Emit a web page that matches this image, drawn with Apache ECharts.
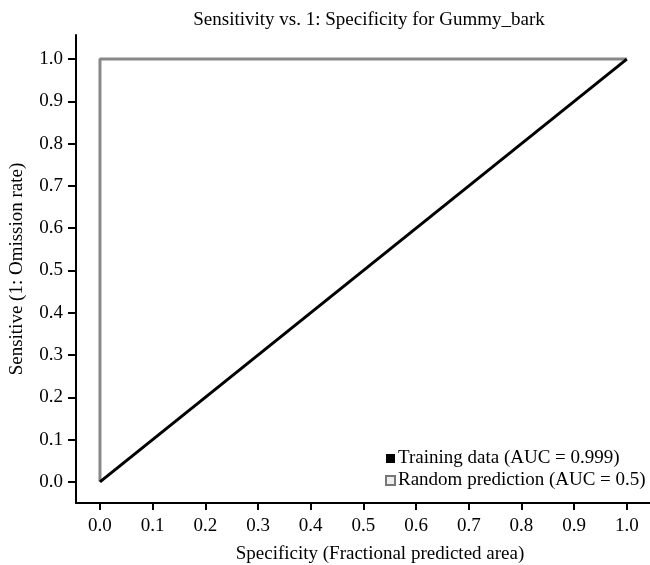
<!DOCTYPE html>
<html>
<head>
<meta charset="utf-8">
<script src="https://cdn.jsdelivr.net/npm/echarts@6/dist/echarts.min.js"></script>
<style>html,body{margin:0;padding:0;background:#fff}#c{width:650px;height:565px}</style>
</head>
<body>
<div id="c"></div>
<script>
var titleText = 'Sensitivity vs. 1: Specificity for Gummy_bark';
var xName = 'Specificity (Fractional predicted area)';
var yName = 'Sensitive (1: Omission rate)';
var legendNames = ['Training data (AUC = 0.999)', 'Random prediction (AUC = 0.5)'];
var tickValues = [0, 0.1, 0.2, 0.3, 0.4, 0.5, 0.6, 0.7, 0.8, 0.9, 1.0];
var trainX = [0, 1];
var trainY = [0, 1];
var randomX = [0, 0, 1];
var randomY = [0, 1, 1];

function pairs(xs, ys) { return xs.map(function (x, i) { return [x, ys[i]]; }); }
var FONT = 'Liberation Serif';
var FS = 19;
var chart = echarts.init(document.getElementById('c'), null, {renderer: 'canvas'});
chart.setOption({
  animation: false,
  textStyle: {fontFamily: FONT},
  title: {
    text: titleText, left: 364, top: 6, textAlign: 'center',
    textStyle: {fontFamily: FONT, fontSize: FS, fontWeight: 'normal', color: '#000'}
  },
  legend: {
    orient: 'vertical', left: 380, top: 444, itemGap: 3,
    itemWidth: 9, itemHeight: 9, icon: 'rect',
    textStyle: {fontFamily: FONT, fontSize: FS, color: '#000', padding: [0, 0, 0, -2]},
    data: [
      {name: legendNames[0], itemStyle: {color: '#000', borderWidth: 0}},
      {name: legendNames[1], itemStyle: {color: '#eee', borderColor: '#777', borderWidth: 2}}
    ]
  },
  grid: {left: 76, right: 0, top: 35, bottom: 62, outerBoundsMode: 'none', containLabel: false},
  xAxis: {
    type: 'value', min: -0.0455, max: 1.044,
    name: xName, nameLocation: 'middle', nameGap: 42,
    nameTextStyle: {fontFamily: FONT, fontSize: FS, color: '#000', padding: [0, 0, 0, 34]},
    axisLine: {onZero: false, lineStyle: {color: '#000', width: 2}},
    axisTick: {show: true, length: 7, lineStyle: {color: '#000', width: 2}, customValues: tickValues},
    axisLabel: {fontFamily: FONT, fontSize: FS, color: '#000', margin: 14, customValues: tickValues,
      formatter: function (v) { return v.toFixed(1); }},
    splitLine: {show: false}
  },
  yAxis: {
    type: 'value', min: -0.05, max: 1.057,
    name: yName, nameLocation: 'middle', nameGap: 49, nameRotate: 90,
    nameTextStyle: {fontFamily: FONT, fontSize: FS, color: '#000'},
    axisLine: {onZero: false, lineStyle: {color: '#000', width: 2}},
    axisTick: {show: true, length: 8, lineStyle: {color: '#000', width: 2}, customValues: tickValues},
    axisLabel: {fontFamily: FONT, fontSize: FS, color: '#000', margin: 13, customValues: tickValues,
      formatter: function (v) { return v.toFixed(1); }},
    splitLine: {show: false}
  },
  series: [
    {name: legendNames[1], type: 'line', data: pairs(randomX, randomY), symbol: 'none',
      lineStyle: {color: '#888', width: 3}, itemStyle: {color: '#888'}, z: 2},
    {name: legendNames[0], type: 'line', data: pairs(trainX, trainY), symbol: 'none',
      lineStyle: {color: '#000', width: 3}, itemStyle: {color: '#000'}, z: 3}
  ]
});
</script>
</body>
</html>
